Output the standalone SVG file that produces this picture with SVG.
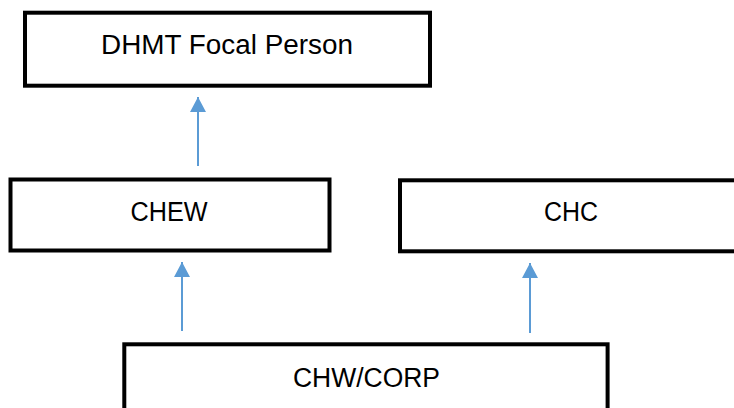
<svg xmlns="http://www.w3.org/2000/svg" width="734" height="408" viewBox="0 0 734 408">
<style>
.box{fill:#fff;stroke:#000;stroke-width:4}
.lbl{font-family:"Liberation Sans",Arial,sans-serif;font-size:27px;fill:#000;text-anchor:middle}
.conn{stroke:#5B9BD5;stroke-width:2;fill:none}
</style>
<defs>
<marker id="ah" markerUnits="userSpaceOnUse" markerWidth="16" markerHeight="16" refX="15" refY="8" orient="auto" viewBox="0 0 16 16">
<path d="M0,0 L15,8 L0,16 Z" fill="#5B9BD5"/>
</marker>
</defs>
<rect width="734" height="408" fill="#fff"/>
<g id="connectors">
<line class="conn" x1="198" y1="166" x2="198" y2="97" marker-end="url(#ah)"/>
<line class="conn" x1="182" y1="331" x2="182" y2="262" marker-end="url(#ah)"/>
<line class="conn" x1="530" y1="333" x2="530" y2="263" marker-end="url(#ah)"/>
</g>
<g id="dhmt">
<rect class="box" x="25" y="12.7" width="405" height="73"/>
<text class="lbl" x="227" y="54" textLength="252" lengthAdjust="spacingAndGlyphs">DHMT Focal Person</text>
</g>
<g id="chew">
<rect class="box" x="10.5" y="179.5" width="319" height="71"/>
<text class="lbl" x="169" y="221" textLength="77" lengthAdjust="spacingAndGlyphs">CHEW</text>
</g>
<g id="chc">
<rect class="box" x="400" y="180.3" width="345" height="71"/>
<text class="lbl" x="571" y="221" textLength="54" lengthAdjust="spacingAndGlyphs">CHC</text>
</g>
<g id="chw">
<rect class="box" x="124.3" y="344.3" width="483.3" height="80"/>
<text class="lbl" x="366.5" y="387" textLength="147" lengthAdjust="spacingAndGlyphs">CHW/CORP</text>
</g>
</svg>
